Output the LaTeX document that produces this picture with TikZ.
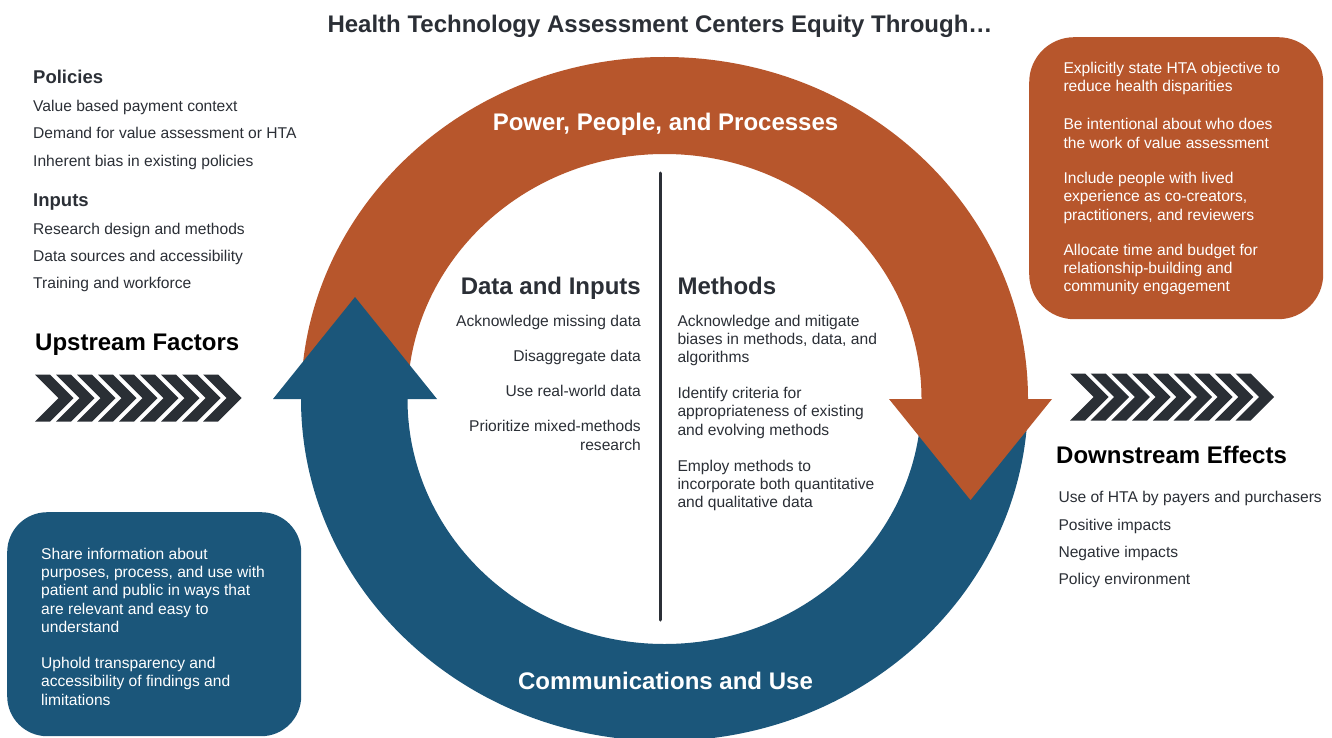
\documentclass[tikz,border=0pt]{standalone}
\usepackage{fontspec}
\setmainfont{Liberation Sans}
\definecolor{orng}{RGB}{183,86,44}
\definecolor{blu}{RGB}{27,86,122}
\definecolor{ink}{RGB}{43,47,54}
\definecolor{chev}{RGB}{42,47,53}
\tikzset{
  body/.style={font=\fontsize{15.6}{18.4}\selectfont, text=ink, inner sep=0pt},
  bodyw/.style={body, text=white, align=left},
  headtxt/.style={font=\fontsize{24}{28}\selectfont\bfseries, inner sep=0pt},
  subhead/.style={font=\fontsize{18.5}{22}\selectfont\bfseries, text=ink, inner sep=0pt},
  boxo/.style={fill=orng, rounded corners=45pt, anchor=north west, inner sep=0pt},
  boxb/.style={fill=blu, rounded corners=40pt, anchor=north west, inner sep=0pt},
  divider/.style={draw=ink, line width=3pt, line cap=round},
}
\begin{document}
\begin{tikzpicture}[x=1pt,y=1pt]
\useasboundingbox (0,0) rectangle (1332,-738);
\clip (0,0) rectangle (1332,-738);
\fill[white] (0,0) rectangle (1332,-738);

% ring bands
\fill[orng] (301,-399) arc[start angle=180,end angle=0,x radius=363.5,y radius=342]
  -- (921.5,-399) arc[start angle=0,end angle=180,x radius=257,y radius=245] -- cycle;
\fill[blu] (1028,-399) arc[start angle=0,end angle=-180,x radius=363.5,y radius=342]
  -- (407.5,-399) arc[start angle=180,end angle=360,x radius=257,y radius=245] -- cycle;
% arrow heads
\fill[blu] (273,-399) -- (355,-297) -- (437,-399) -- cycle;
\fill[orng] (889,-399) -- (1052,-399) -- (970.5,-500) -- cycle;

% divider
\coordinate (ltop) at (660,-173);
\coordinate (lbot) at (660,-620);
\draw[divider] (ltop) -- (lbot);

% chevrons
\foreach \i in {0,...,8}{
  \pgfmathsetmacro{\xa}{35+21*\i}
  \fill[chev] (\xa,-374.5) -- ({\xa+15},-374.5) -- ({\xa+38.5},-398) -- ({\xa+15},-421.5)
    -- (\xa,-421.5) -- ({\xa+23.5},-398) -- cycle;
  \pgfmathsetmacro{\xb}{1070+20.7*\i}
  \fill[chev] (\xb,-373.5) -- ({\xb+15},-373.5) -- ({\xb+38.5},-397) -- ({\xb+15},-420.5)
    -- (\xb,-420.5) -- ({\xb+23.5},-397) -- cycle;
}

% boxes
\node[boxo, minimum width=294pt, minimum height=282pt] (obox) at (1029,-37) {};
\node[boxb, minimum width=294pt, minimum height=224pt] (bbox) at (7,-512) {};

% title
\node[headtxt, text=ink, anchor=base] (title) at (660,-32.7) {Health Technology Assessment Centers Equity Through…};

% left column
\node[subhead, anchor=base west] (pol) at (33,-83.3) {Policies};
\node[body, anchor=base west] (p1) at (33,-111.7) {Value based payment context};
\node[body, anchor=base west] (p2) at (33,-138.7) {Demand for value assessment or HTA};
\node[body, anchor=base west] (p3) at (33,-166.7) {Inherent bias in existing policies};
\node[subhead, anchor=base west] (inp) at (33,-206.7) {Inputs};
\node[body, anchor=base west] (i1) at (33,-234.3) {Research design and methods};
\node[body, anchor=base west] (i2) at (33,-261.7) {Data sources and accessibility};
\node[body, anchor=base west] (i3) at (33,-288.7) {Training and workforce};
\node[headtxt, text=black, anchor=base west] (up) at (35,-350) {Upstream Factors};

% right column
\node[headtxt, text=black, anchor=base west] (down) at (1056,-463.3) {Downstream Effects};
\node[body, anchor=base west] (d1) at (1058.3,-502.7) {Use of HTA by payers and purchasers};
\node[body, anchor=base west] (d2) at (1058.3,-530) {Positive impacts};
\node[body, anchor=base west] (d3) at (1058.3,-557.3) {Negative impacts};
\node[body, anchor=base west] (d4) at (1058.3,-584) {Policy environment};

% ring labels
\node[headtxt, text=white, anchor=base] (ppp) at (665.5,-130.7) {Power, People, and Processes};
\node[headtxt, text=white, anchor=base] (cu) at (665.5,-689) {Communications and Use};

% centre (multi-line nodes: base = last line)
\node[headtxt, text=ink, anchor=base east] (dih) at (641,-294.3) {Data and Inputs};
\node[headtxt, text=ink, anchor=base west] (meth) at (677.3,-294.3) {Methods};
\node[body, anchor=base east] (l1) at (641,-326) {Acknowledge missing data};
\node[body, anchor=base east] (l2) at (641,-361) {Disaggregate data};
\node[body, anchor=base east] (l3) at (641,-396.7) {Use real-world data};
\node[body, anchor=base east, align=right] (l4) at (641,-450.2) {Prioritize mixed-methods\\research};
\node[body, anchor=base west, align=left] (m1) at (677.3,-362.8) {Acknowledge and mitigate\\biases in methods, data, and\\algorithms};
\node[body, anchor=base west, align=left] (m2) at (677.3,-435.1) {Identify criteria for\\appropriateness of existing\\and evolving methods};
\node[body, anchor=base west, align=left] (m3) at (677.3,-507.8) {Employ methods to\\incorporate both quantitative\\and qualitative data};

% orange box text
\node[bodyw, anchor=base west] (o1) at (1063.3,-91.7) {Explicitly state HTA objective to\\reduce health disparities};
\node[bodyw, anchor=base west] (o2) at (1063.3,-148.4) {Be intentional about who does\\the work of value assessment};
\node[bodyw, anchor=base west] (o3) at (1063.3,-220.1) {Include people with lived\\experience as co-creators,\\practitioners, and reviewers};
\node[bodyw, anchor=base west] (o4) at (1063.3,-291.8) {Allocate time and budget for\\relationship-building and\\community engagement};

% blue box text
\node[bodyw, anchor=base west] (b1) at (41,-632.7) {Share information about\\purposes, process, and use with\\patient and public in ways that\\are relevant and easy to\\understand};
\node[bodyw, anchor=base west] (b2) at (41,-705) {Uphold transparency and\\accessibility of findings and\\limitations};
\end{tikzpicture}
\end{document}
